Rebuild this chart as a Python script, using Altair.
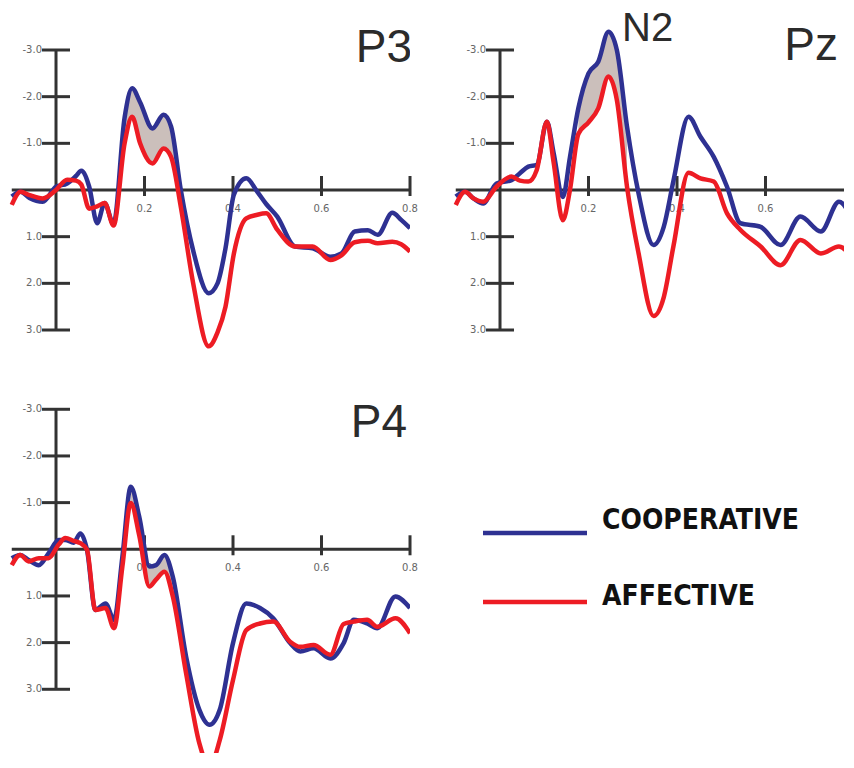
import altair as alt
import pandas as pd

# ---------------- data ----------------
SERIES = ["COOPERATIVE", "AFFECTIVE"]
COLORS = ["#2e3192", "#ed1c24"]
SHADE = "#cbbfbb"
AXIS_COLOR = "#333333"

Y_TICKS = [-3, -2, -1, 1, 2, 3]
Y_TICK_LABELS = ["-3.0", "-2.0", "-1.0", "1.0", "2.0", "3.0"]
X_TICKS = [0.2, 0.4, 0.6, 0.8]
X_TICK_LABELS = ["0.2", "0.4", "0.6", "0.8"]
X_AXIS_RANGE = [-0.1, 0.8]

# P3
P3_T = [-0.10, -0.08, -0.06, -0.03, 0.0, 0.025, 0.045, 0.057, 0.075, 0.093, 0.11, 0.13,
        0.155, 0.172, 0.19, 0.218, 0.243, 0.26, 0.282, 0.31, 0.345, 0.365, 0.383, 0.402,
        0.43, 0.455, 0.475, 0.5, 0.54, 0.58, 0.62, 0.645, 0.675, 0.705, 0.727, 0.76, 0.78, 0.8]
P3_COOP = [0.14, 0.04, 0.17, 0.25, -0.07, -0.14, -0.3, -0.41, -0.07, 0.71, 0.28, 0.73,
           -1.55, -2.18, -1.88, -1.32, -1.61, -1.36, 0.0, 1.3, 2.21, 2.0, 1.25, 0.1,
           -0.25, 0.04, 0.3, 0.57, 1.21, 1.25, 1.43, 1.36, 0.89, 0.86, 0.96, 0.49, 0.64, 0.82]
P3_AFF = [0.32, 0.04, 0.11, 0.18, 0.0, -0.22, -0.2, -0.12, 0.4, 0.35, 0.28, 0.76,
          -1.0, -1.57, -1.0, -0.57, -0.89, -0.71, 0.36, 2.0, 3.35, 3.05, 2.5, 1.36,
          0.61, 0.53, 0.5, 0.85, 1.21, 1.21, 1.5, 1.4, 1.12, 1.09, 1.14, 1.11, 1.16, 1.32]
P3_SHADE = [0.155, 0.282]

# Pz
PZ_T = [-0.1, -0.079, -0.06, -0.038, -0.008, 0.026, 0.045, 0.064, 0.083, 0.106, 0.121, 0.142,
        0.158, 0.177, 0.2, 0.222, 0.245, 0.264, 0.287, 0.313, 0.347, 0.37, 0.392, 0.426,
        0.453, 0.483, 0.513, 0.543, 0.589, 0.634, 0.679, 0.725, 0.766, 0.8]
PZ_COOP = [0.14, 0.04, 0.18, 0.29, -0.14, -0.21, -0.36, -0.5, -0.54, -1.46, -0.8, 0.15,
           -0.7, -1.75, -2.5, -2.75, -3.39, -3.0, -1.36, 0.07, 1.18, 0.79, -0.2, -1.57,
           -1.14, -0.71, -0.07, 0.71, 0.79, 1.18, 0.57, 0.89, 0.25, 0.71]
PZ_AFF = [0.32, 0.04, 0.18, 0.25, -0.07, -0.29, -0.2, -0.18, -0.43, -1.46, -0.6, 0.65,
          0.0, -1.2, -1.45, -1.75, -2.43, -1.93, -0.07, 1.35, 2.7, 2.3, 1.2, -0.37,
          -0.25, -0.18, 0.5, 0.85, 1.21, 1.61, 1.07, 1.36, 1.21, 1.5]
PZ_SHADE = [0.177, 0.287]

# P4
P4_T = [-0.1, -0.081, -0.062, -0.039, -0.017, 0.006, 0.021, 0.04, 0.055, 0.07, 0.089, 0.112,
        0.131, 0.15, 0.169, 0.188, 0.211, 0.226, 0.245, 0.264, 0.294, 0.324, 0.347, 0.37,
        0.4, 0.43, 0.461, 0.491, 0.529, 0.552, 0.582, 0.62, 0.65, 0.673, 0.703, 0.726, 0.767, 0.8]
P4_COOP = [0.19, 0.12, 0.23, 0.34, 0.09, -0.2, -0.2, -0.14, -0.34, 0.01, 1.3, 1.16,
           1.51, 0.16, -1.34, -0.7, 0.37, 0.34, 0.12, 0.59, 2.3, 3.44, 3.76, 3.44,
           2.01, 1.16, 1.26, 1.48, 2.01, 2.19, 2.12, 2.34, 2.01, 1.51, 1.59, 1.69, 1.01, 1.26]
P4_AFF = [0.34, 0.12, 0.26, 0.19, 0.19, -0.1, -0.24, -0.18, -0.13, 0.01, 1.3, 1.26,
          1.69, 0.37, -0.99, -0.3, 0.8, 0.65, 0.48, 1.01, 2.66, 4.16, 4.66, 4.09,
          2.8, 1.73, 1.59, 1.55, 1.98, 2.09, 2.05, 2.26, 1.6, 1.55, 1.51, 1.66, 1.48, 1.8]
P4_SHADE = [0.169, 0.264]

# ---------------- layout constants ----------------
PX_PER_SEC = 442.5
PX_PER_UV = 46.667
X_START = -0.1085
TITLE_FONT = "Liberation Sans"
LINE_W = 4.5


def panel(t, coop, aff, shade, width, height, y_top, titles, clip_axis):
    xs = alt.Scale(domain=[X_START, X_START + width / PX_PER_SEC], nice=False, zero=False)
    ys = alt.Scale(domain=[y_top, y_top + height / PX_PER_UV], nice=False, zero=False,
                   reverse=True)

    def X(f):
        return alt.X(f, scale=xs, axis=None)

    def Y(f):
        return alt.Y(f, scale=ys, axis=None)

    df = pd.DataFrame({"t": t, "coop": coop, "aff": aff})
    ydf = pd.DataFrame({"v": Y_TICKS, "lab": Y_TICK_LABELS})
    xdf = pd.DataFrame({"t": X_TICKS, "lab": X_TICK_LABELS})
    xline = pd.DataFrame({"start": [X_AXIS_RANGE[0]], "end": [X_AXIS_RANGE[1]]})

    y_axis = (alt.Chart(ydf).transform_calculate(zero="0")
              .mark_rule(color=AXIS_COLOR, strokeWidth=3, clip=True)
              .encode(x=X("zero:Q"), y=Y("min(v):Q"), y2=alt.Y2("max(v):Q")))
    x_axis = (alt.Chart(xline).transform_calculate(zero="0")
              .mark_rule(color=AXIS_COLOR, strokeWidth=3, clip=True)
              .encode(x=X("start:Q"), x2=alt.X2("end:Q"), y=Y("zero:Q")))
    y_ticks = (alt.Chart(ydf).transform_calculate(zero="0")
               .mark_tick(orient="horizontal", size=28, thickness=3, color=AXIS_COLOR,
                          opacity=1, clip=True)
               .encode(x=X("zero:Q"), y=Y("v:Q")))
    y_labels = (alt.Chart(ydf).transform_calculate(zero="0")
                .mark_text(align="right", baseline="middle", dx=-14, font="DejaVu Sans",
                           fontSize=10, color="#666666", clip=True)
                .encode(x=X("zero:Q"), y=Y("v:Q"), text="lab:N"))
    x_ticks = (alt.Chart(xdf).transform_calculate(zero="0")
               .mark_tick(orient="vertical", size=20, thickness=3, yOffset=-4,
                          color=AXIS_COLOR, opacity=1, clip=clip_axis)
               .encode(x=X("t:Q"), y=Y("zero:Q")))
    x_labels = (alt.Chart(xdf).transform_calculate(zero="0")
                .mark_text(align="center", baseline="middle", dy=19, font="DejaVu Sans",
                           fontSize=10, color="#666666", clip=clip_axis)
                .encode(x=X("t:Q"), y=Y("zero:Q"), text="lab:N"))

    area = (alt.Chart(df)
            .transform_filter((alt.datum.t >= shade[0]) & (alt.datum.t <= shade[1]))
            .mark_area(color=SHADE, interpolate="monotone", clip=True)
            .encode(x=X("t:Q"), y=Y("coop:Q"), y2=alt.Y2("aff:Q")))
    blue = (alt.Chart(df)
            .mark_line(color=COLORS[0], strokeWidth=LINE_W, interpolate="monotone", clip=True)
            .encode(x=X("t:Q"), y=Y("coop:Q")))
    red = (alt.Chart(df)
           .mark_line(color=COLORS[1], strokeWidth=LINE_W, interpolate="monotone", clip=True)
           .encode(x=X("t:Q"), y=Y("aff:Q")))

    layers = [y_axis, x_axis, y_ticks, y_labels, x_ticks, x_labels, area, blue, red]
    for text, px, py, size, align in titles:
        layers.append(
            alt.Chart(pd.DataFrame({"lab": [text]}))
            .mark_text(align=align, baseline="alphabetic", font=TITLE_FONT, fontSize=size,
                       color="#2b2b2b", clip=True)
            .encode(x=alt.value(px), y=alt.value(py), text="lab:N")
        )
    return alt.layer(*layers).properties(width=width, height=height)


TOP_H = 345
BOT_H = 386
LEFT_W = 402
RIGHT_W = 392

p3 = panel(P3_T, P3_COOP, P3_AFF, P3_SHADE, LEFT_W, TOP_H, -3.9,
           [("P3", 404, 54, 46, "right")], False)
pz = panel(PZ_T, PZ_COOP, PZ_AFF, PZ_SHADE, RIGHT_W, TOP_H, -3.9,
           [("Pz", 386, 52, 46, "right"), ("N2", 170, 33, 40, "left")], True)
p4 = panel(P4_T, P4_COOP, P4_AFF, P4_SHADE, LEFT_W, BOT_H, -3.906,
           [("P4", 399, 70, 46, "right")], False)

# legend panel
leg_df = pd.DataFrame({"series": SERIES})
leg_y = alt.Scale(type="point", domain=SERIES, range=[166, 235], padding=0)
leg_rule = (alt.Chart(leg_df).mark_rule(strokeWidth=4.5)
            .encode(x=alt.value(31), x2=alt.value(135),
                    y=alt.Y("series:N", scale=leg_y, axis=None),
                    color=alt.Color("series:N", scale=alt.Scale(domain=SERIES, range=COLORS),
                                    legend=None)))
leg_texts = []
for name, dy in zip(SERIES, [-4, 3]):
    leg_texts.append(
        alt.Chart(leg_df).transform_filter(alt.datum.series == name)
        .mark_text(align="left", baseline="alphabetic", dy=dy,
                   font="Liberation Sans Narrow, DejaVu Sans Condensed, Liberation Sans",
                   fontSize=28, fontWeight="bold", color="#111111")
        .encode(x=alt.value(150), y=alt.Y("series:N", scale=leg_y, axis=None),
                text="series:N")
    )
legend = alt.layer(leg_rule, *leg_texts).properties(width=RIGHT_W, height=BOT_H)

top = alt.hconcat(p3, pz, spacing=42, bounds="flush")
bottom = alt.hconcat(p4, legend, spacing=42, bounds="flush")
chart = (alt.vconcat(top, bottom, spacing=14)
         .properties(padding=0, background="white")
         .configure_view(stroke=None))

chart.save("out.html", embed_options={"renderer": "svg", "actions": False})
